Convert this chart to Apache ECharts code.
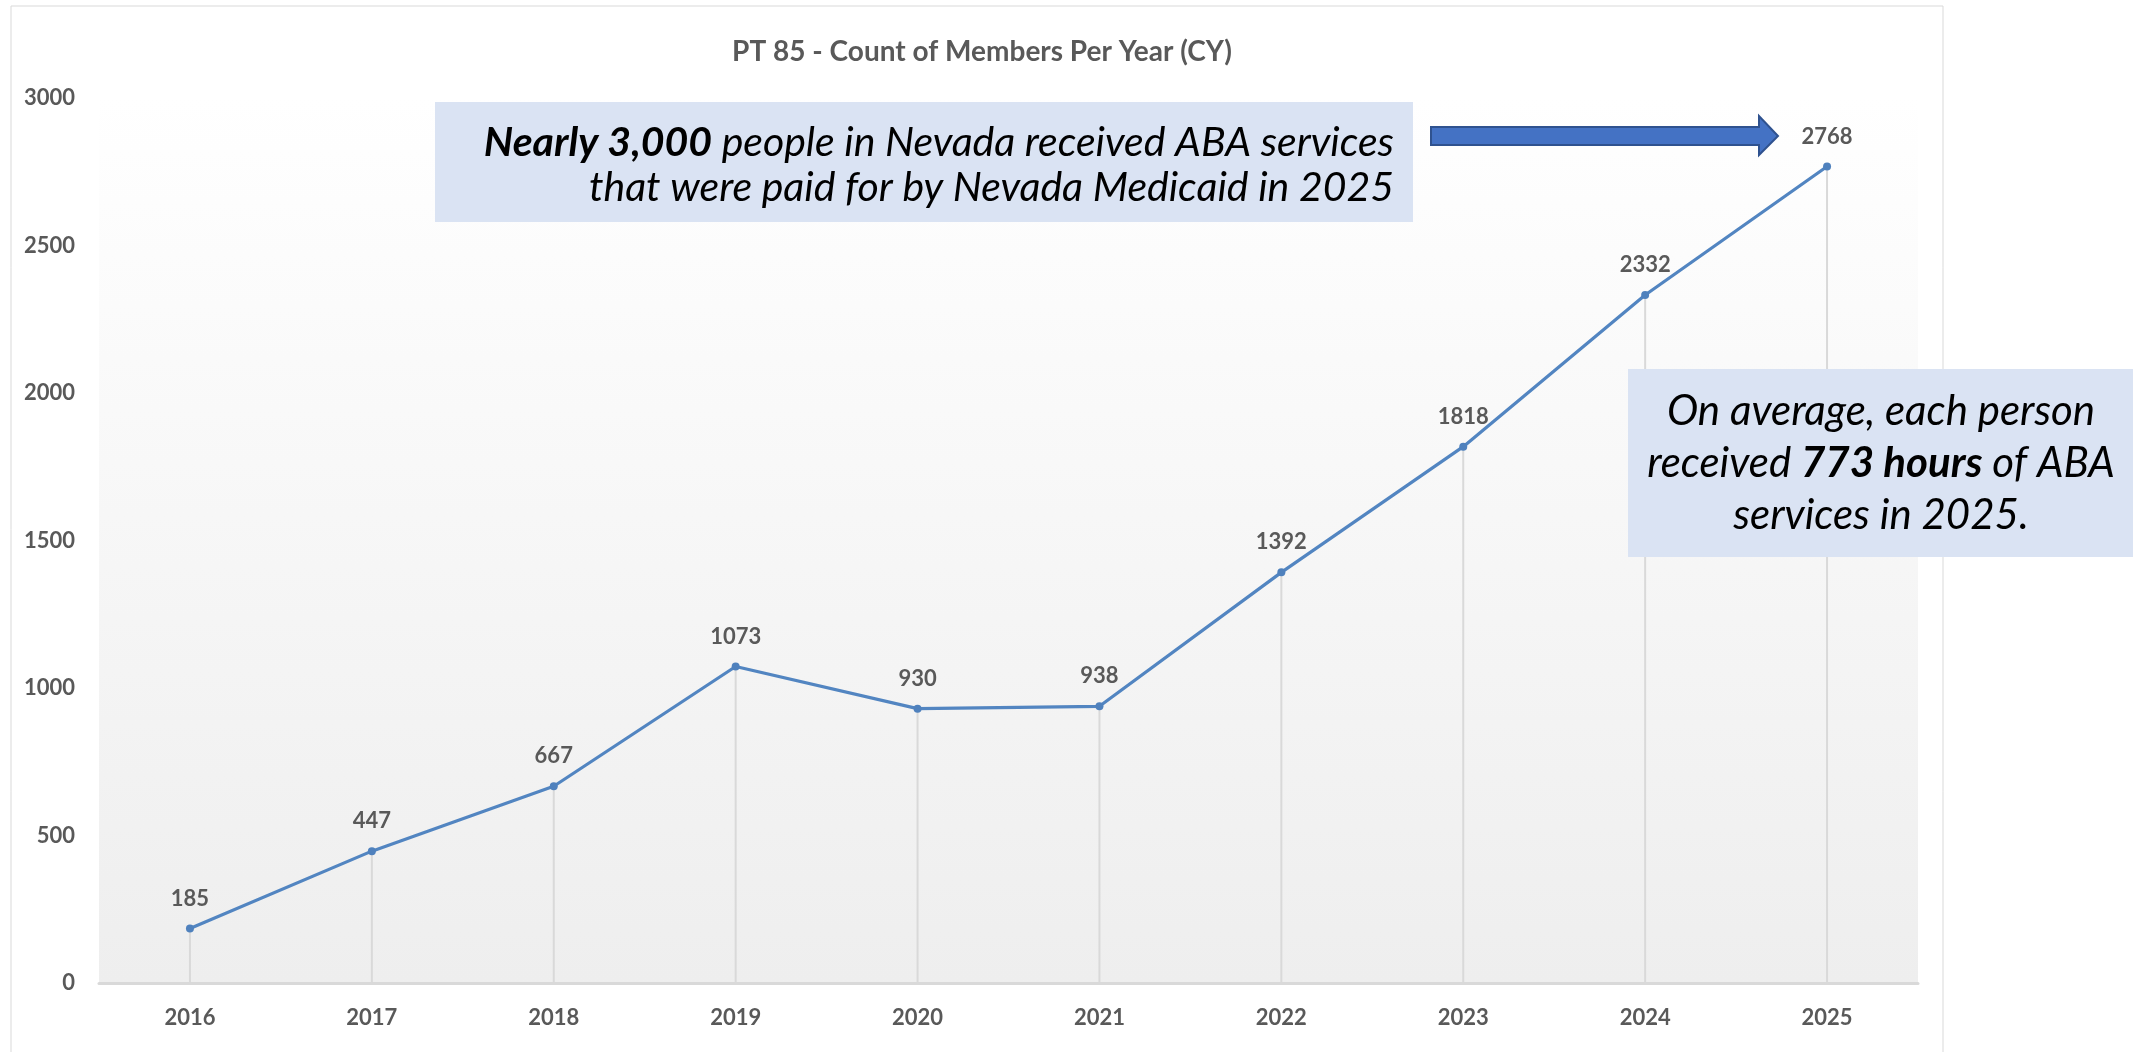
<!DOCTYPE html>
<html>
<head>
<meta charset="utf-8">
<script src="https://cdn.jsdelivr.net/npm/echarts@6/dist/echarts.min.js"></script>
<style>
html,body{margin:0;padding:0;background:#fff;}
#chart{width:2143px;height:1052px;}
</style>
</head>
<body>
<div id="chart"></div>
<script>
const titleText = 'PT 85 - Count of Members Per Year (CY)';
const years = ['2016','2017','2018','2019','2020','2021','2022','2023','2024','2025'];
const members = [185, 447, 667, 1073, 930, 938, 1392, 1818, 2332, 2768];
const yMin = 0, yMax = 3000, yStep = 500;

const FONT = "Lato, 'Open Sans', sans-serif";
const GREY = '#595959';

const chart = echarts.init(document.getElementById('chart'), null, {renderer: 'canvas'});

function richStyles(size, lh) {
  return {
    b: {fontFamily: FONT, fontSize: size, fontStyle: 'italic', fontWeight: 'bold', fill: '#000', lineHeight: lh},
    n: {fontFamily: FONT, fontSize: size, fontStyle: 'italic', fontWeight: 'normal', fill: '#000', lineHeight: lh}
  };
}

const option = {
  backgroundColor: '#ffffff',
  animation: false,
  title: {
    text: titleText,
    left: 977,
    textAlign: 'center',
    top: 33,
    textStyle: {fontFamily: FONT, fontSize: 28, fontWeight: 'bold', color: GREY}
  },
  grid: {
    left: 99, right: 225, top: 98, bottom: 69,
    show: true,
    borderWidth: 0,
    backgroundColor: new echarts.graphic.LinearGradient(0, 0, 0, 1, [
      {offset: 0, color: '#ffffff'},
      {offset: 1, color: '#eeeeee'}
    ])
  },
  xAxis: {
    type: 'category',
    data: years,
    boundaryGap: true,
    axisLine: {show: true, lineStyle: {color: '#d9d9d9', width: 3}},
    axisTick: {show: false},
    axisLabel: {fontFamily: FONT, fontSize: 22, fontWeight: 'bold', color: GREY, margin: 24},
    splitLine: {show: false}
  },
  yAxis: {
    type: 'value',
    min: yMin, max: yMax, interval: yStep,
    axisLine: {show: false},
    axisTick: {show: false},
    splitLine: {show: false},
    axisLabel: {fontFamily: FONT, fontSize: 22, fontWeight: 'bold', color: GREY, margin: 24,
      formatter: function (v) { return String(v); }}
  },
  series: [
    {
      type: 'bar',
      data: members,
      barWidth: 2,
      itemStyle: {color: '#d9d9d9'},
      silent: true,
      z: 1
    },
    {
      type: 'line',
      data: members,
      symbol: 'circle',
      symbolSize: 8,
      lineStyle: {color: '#5285c1', width: 3.2},
      itemStyle: {color: '#4f81bd'},
      label: {
        show: true, position: 'top', distance: 15,
        fontFamily: FONT, fontSize: 22, fontWeight: 'bold', color: GREY
      },
      z: 3
    }
  ],
  graphic: [
    {
      type: 'rect', silent: true, z: -10,
      shape: {x: 11, y: 6, width: 1932, height: 1060},
      style: {fill: 'none', stroke: '#d9d9d9', lineWidth: 1}
    },
    {
      type: 'rect', z: 10,
      shape: {x: 435, y: 102, width: 978, height: 120},
      style: {fill: '#dae3f3'}
    },
    {
      type: 'text', z: 11,
      x: 1394, y: 120,
      style: {
        text: '{b|Nearly 3,000}{n| people in Nevada received ABA services}\n{n|that were paid for by Nevada Medicaid in 2025}',
        align: 'right', verticalAlign: 'top',
        fontFamily: FONT, fontSize: 41, fontStyle: 'italic', fill: '#000',
        rich: richStyles(41, 45)
      }
    },
    {
      type: 'polygon', z: 10,
      shape: {points: [[1431,127],[1759,127],[1759,116],[1778,136],[1759,155],[1759,145],[1431,145]]},
      style: {fill: '#4472c4', stroke: '#2f528f', lineWidth: 2}
    },
    {
      type: 'rect', z: 10,
      shape: {x: 1628, y: 369, width: 505, height: 188},
      style: {fill: '#dae3f3'}
    },
    {
      type: 'text', z: 11,
      x: 1881, y: 385,
      style: {
        text: '{n|On average, each person}\n{n|received }{b|773 hours}{n| of ABA}\n{n|services in 2025.}',
        align: 'center', verticalAlign: 'top',
        fontFamily: FONT, fontSize: 42, fontStyle: 'italic', fill: '#000',
        rich: richStyles(42, 52)
      }
    }
  ]
};
chart.setOption(option);
</script>
</body>
</html>
